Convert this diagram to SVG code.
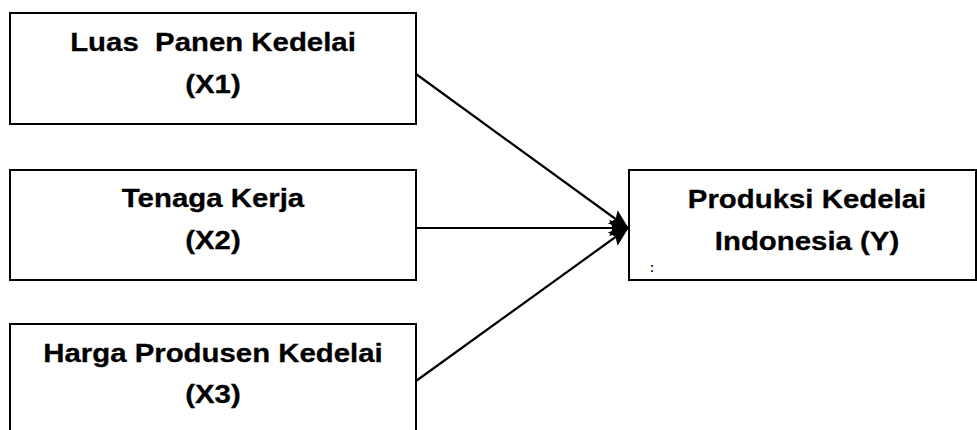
<svg xmlns="http://www.w3.org/2000/svg" width="977" height="430" viewBox="0 0 977 430">
<defs>
<style>
.box{fill:#fff;stroke:#000;stroke-width:2}
.t{font-family:"Liberation Sans",Arial,sans-serif;font-weight:bold;font-size:26px;fill:#000;text-anchor:middle;white-space:pre;stroke:#000;stroke-width:0.3}
.c{stroke:#000;stroke-width:2.2;fill:none;marker-end:url(#ah)}
</style>
<marker id="ah" markerUnits="userSpaceOnUse" markerWidth="20" markerHeight="20" viewBox="0 -8 17 16" refX="16" refY="0" orient="auto">
<path d="M0,-7 L17,0 L0,7 L3,0 z" fill="#000"/>
</marker>
</defs>
<rect width="977" height="430" fill="#fff"/>
<g id="x1">
<rect class="box" x="10" y="13" width="406" height="111"/>
<g transform="translate(213,0) scale(1.13,1)">
<text class="t" x="0" y="51" xml:space="preserve">Luas  Panen Kedelai</text>
<text class="t" x="0" y="93">(X1)</text>
</g>
</g>
<g id="x2">
<rect class="box" x="10" y="170" width="406" height="110"/>
<g transform="translate(213,0) scale(1.13,1)">
<text class="t" x="0" y="207">Tenaga Kerja</text>
<text class="t" x="0" y="249">(X2)</text>
</g>
</g>
<g id="x3">
<rect class="box" x="10" y="324" width="406" height="111"/>
<g transform="translate(213,0) scale(1.13,1)">
<text class="t" x="0" y="362">Harga Produsen Kedelai</text>
<text class="t" x="0" y="403">(X3)</text>
</g>
</g>
<g id="y">
<rect class="box" x="629" y="170" width="347" height="110"/>
<g transform="translate(807,0) scale(1.13,1)">
<text class="t" x="0" y="208">Produksi Kedelai</text>
<text class="t" x="0" y="250">Indonesia (Y)</text>
</g>
<text x="652" y="272" font-family="Liberation Sans,Arial,sans-serif" font-weight="bold" font-size="12" text-anchor="middle">:</text>
</g>
<g id="connectors">
<line class="c" x1="416" y1="74" x2="628" y2="228"/>
<line class="c" x1="416" y1="228" x2="628" y2="228"/>
<line class="c" x1="416" y1="381" x2="628" y2="228"/>
</g>
</svg>
